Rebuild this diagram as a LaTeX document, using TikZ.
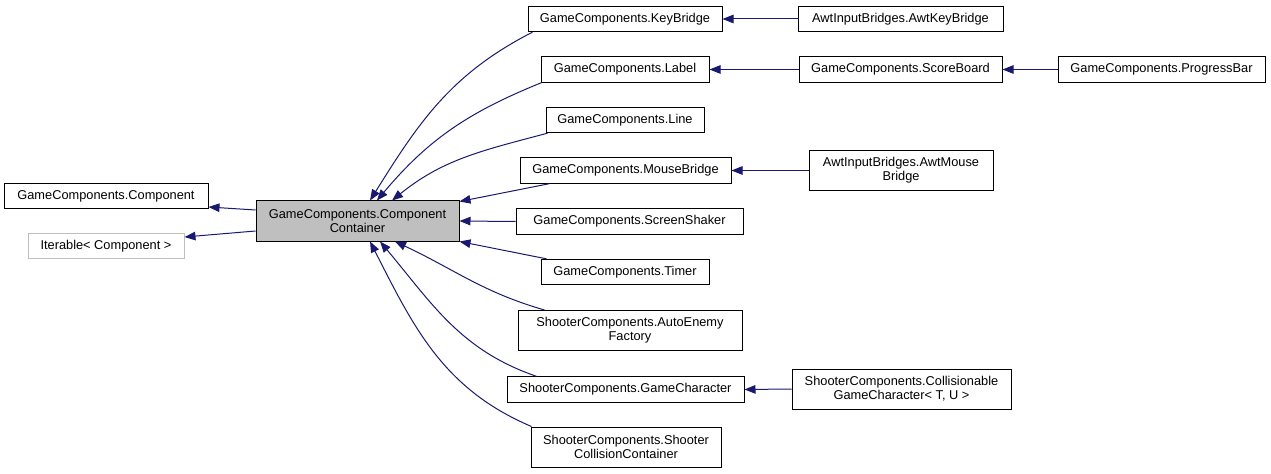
\documentclass[tikz,border=0pt]{standalone}
\usepackage{fontspec}
\setmainfont{Liberation Sans}
\usetikzlibrary{arrows.meta}
\definecolor{edgeblue}{HTML}{191970}
\definecolor{boxgray}{HTML}{BFBFBF}

\begin{document}
\begin{tikzpicture}[x=0.75pt, y=-0.75pt,
  box/.style={draw=black, line width=0.75pt, inner sep=0pt, align=center,
    minimum height=19pt, font=\fontsize{9.6}{10.5}\selectfont},
  tall/.style={minimum height=30pt},
  edge/.style={draw=edgeblue, line width=0.75pt,
    -{Triangle[length=8.25pt, width=6.4pt]}}]
  \useasboundingbox (0,0) rectangle (1271,474);

  % base classes
  \node[box, minimum width=153pt] (comp) at (106,196) {GameComponents.Component};
  \node[box, draw=boxgray, minimum width=117pt] (iter) at (106,246) {Iterable< Component >};
  \node[box, tall, fill=boxgray, minimum width=152.25pt] (cc) at (357.5,221)
    {GameComponents.Component\\Container};

  % derived classes
  \node[box, minimum width=145.5pt] (kb) at (625,19) {GameComponents.KeyBridge};
  \node[box, minimum width=126pt] (lbl) at (625,69.5) {GameComponents.Label};
  \node[box, minimum width=118.5pt] (line) at (625,120) {GameComponents.Line};
  \node[box, minimum width=158.25pt] (mb) at (625.5,170.5) {GameComponents.MouseBridge};
  \node[box, minimum width=170.25pt] (ss) at (629.5,221.5) {GameComponents.ScreenShaker};
  \node[box, minimum width=126pt] (timer) at (625,272) {GameComponents.Timer};
  \node[box, tall, minimum width=168pt] (ae) at (630,330.5)
    {ShooterComponents.AutoEnemy\\Factory};
  \node[box, minimum width=177.75pt] (gc) at (625.5,389.5) {ShooterComponents.GameCharacter};
  \node[box, tall, minimum width=142.5pt] (scc) at (626,447)
    {ShooterComponents.Shooter\\CollisionContainer};

  \node[box, minimum width=153.75pt] (akb) at (900.5,19) {AwtInputBridges.AwtKeyBridge};
  \node[box, minimum width=152.25pt] (sb) at (900.5,69.5) {GameComponents.ScoreBoard};
  \node[box, minimum width=155.25pt] (pb) at (1161.5,69.5) {GameComponents.ProgressBar};
  \node[box, tall, minimum width=138pt] (amb) at (901,170.5)
    {AwtInputBridges.AwtMouse\\Bridge};
  \node[box, tall, minimum width=164.25pt] (cgc) at (901.5,389)
    {ShooterComponents.Collisionable\\GameCharacter< T, U >};

  % inheritance
  \draw[edge] ([yshift=8.25pt]cc.west) -- ([yshift=-8.25pt]comp.east);
  \draw[edge] ([yshift=-7.5pt]cc.west) -- ([yshift=6.75pt]iter.east);

  \draw[edge] ([xshift=3.75pt]kb.south west) to[out=207, in=58] ([xshift=9.4pt]cc.north);
  \draw[edge] ([xshift=0.75pt]lbl.south west) to[out=202, in=50] ([xshift=14.6pt]cc.north);
  \draw[edge] ([xshift=1.5pt]line.south west) to[out=195, in=39] ([xshift=25.9pt]cc.north);
  \draw[edge] ([xshift=22.5pt]mb.south west) -- ([yshift=-0.75pt]cc.north east);
  \draw[edge] (ss.west) -- (cc.east);
  \draw[edge] ([xshift=4.5pt]timer.north west) -- (cc.south east);
  \draw[edge] ([xshift=20.25pt]ae.north west) to[out=164, in=-25] ([xshift=28.1pt]cc.south);
  \draw[edge] ([xshift=22.5pt]gc.north west) to[out=161, in=-50] ([xshift=16.9pt]cc.south);
  \draw[edge] ([xshift=0.75pt]scc.north west) to[out=157, in=-63] ([xshift=9.4pt]cc.south);

  \draw[edge] (akb.west) -- (kb.east);
  \draw[edge] (sb.west) -- (lbl.east);
  \draw[edge] (pb.west) -- (sb.east);
  \draw[edge] (amb.west) -- (mb.east);
  \draw[edge] (cgc.west) -- (gc.east);
\end{tikzpicture}
\end{document}
